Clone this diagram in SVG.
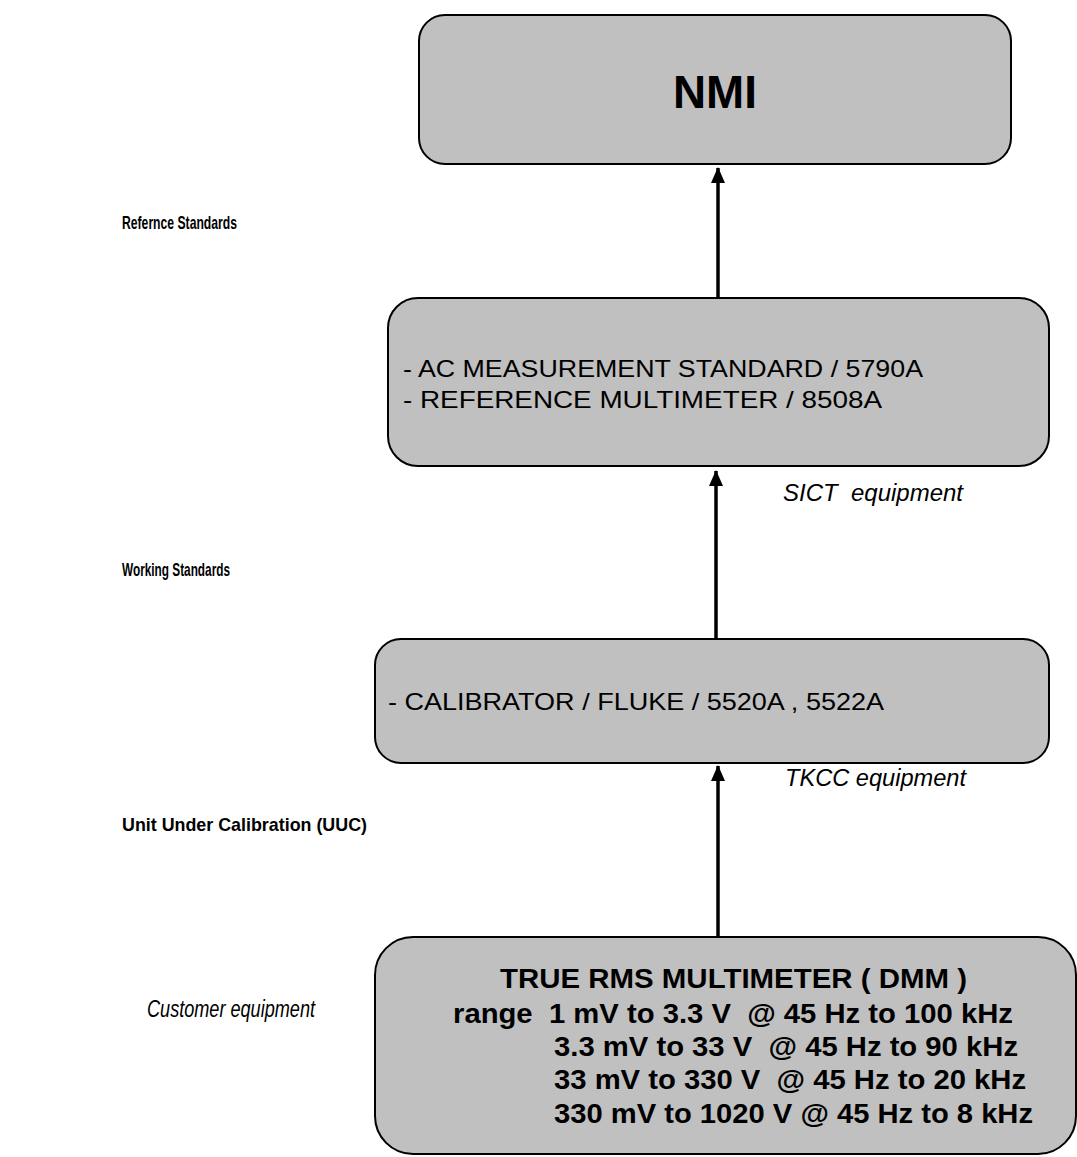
<svg xmlns="http://www.w3.org/2000/svg" width="1077" height="1157" viewBox="0 0 1077 1157">
<style>
.box{fill:#c0c0c0;stroke:#000;stroke-width:2}
.lbl{font-family:"Liberation Sans",Arial,sans-serif;font-weight:bold;font-size:19px;fill:#000}
.it{font-family:"Liberation Sans",Arial,sans-serif;font-style:italic;font-size:24px;fill:#000}
.reg{font-family:"Liberation Sans",Arial,sans-serif;font-size:24px;fill:#000}
.bb{font-family:"Liberation Sans",Arial,sans-serif;font-weight:bold;font-size:27px;fill:#000}
.con{stroke:#000;stroke-width:3.5;fill:none}
</style>
<defs>
<marker id="ah" markerUnits="userSpaceOnUse" markerWidth="16" markerHeight="16" viewBox="0 0 16 16" refX="15" refY="8" orient="auto">
<path d="M0,1 L16,8 L0,15 Z" fill="#000"/>
</marker>
</defs>
<g id="connectors">
<line class="con" x1="718" y1="297" x2="718" y2="168" marker-end="url(#ah)"/>
<line class="con" x1="716" y1="639" x2="716" y2="471" marker-end="url(#ah)"/>
<line class="con" x1="718" y1="937" x2="718" y2="766" marker-end="url(#ah)"/>
</g>
<g id="nmi">
<rect class="box" x="419" y="15" width="592" height="149" rx="26"/>
<text x="673" y="108" font-family="Liberation Sans,Arial,sans-serif" font-weight="bold" font-size="47" textLength="84" lengthAdjust="spacingAndGlyphs">NMI</text>
</g>
<g id="reference-standards">
<rect class="box" x="388" y="298" width="661" height="168" rx="30"/>
<text class="reg" x="403" y="377" textLength="520" lengthAdjust="spacingAndGlyphs">- AC MEASUREMENT STANDARD / 5790A</text>
<text class="reg" x="403" y="408" textLength="479" lengthAdjust="spacingAndGlyphs">- REFERENCE MULTIMETER / 8508A</text>
</g>
<g id="working-standards">
<rect class="box" x="375" y="639" width="674" height="124" rx="26"/>
<text class="reg" x="388" y="710" textLength="496" lengthAdjust="spacingAndGlyphs">- CALIBRATOR / FLUKE / 5520A , 5522A</text>
</g>
<g id="uuc">
<rect class="box" x="375" y="937" width="701" height="217" rx="38"/>
<text class="bb" x="500" y="988" textLength="467" lengthAdjust="spacingAndGlyphs">TRUE RMS MULTIMETER ( DMM )</text>
<text class="bb" x="453" y="1023" textLength="560" lengthAdjust="spacingAndGlyphs" xml:space="preserve">range  1 mV to 3.3 V  @ 45 Hz to 100 kHz</text>
<text class="bb" x="554" y="1056" textLength="464" lengthAdjust="spacingAndGlyphs" xml:space="preserve">3.3 mV to 33 V  @ 45 Hz to 90 kHz</text>
<text class="bb" x="554" y="1089" textLength="472" lengthAdjust="spacingAndGlyphs" xml:space="preserve">33 mV to 330 V  @ 45 Hz to 20 kHz</text>
<text class="bb" x="554" y="1123" textLength="479" lengthAdjust="spacingAndGlyphs">330 mV to 1020 V @ 45 Hz to 8 kHz</text>
</g>
<g id="labels">
<text class="lbl" x="122" y="229" textLength="115" lengthAdjust="spacingAndGlyphs">Refernce Standards</text>
<text class="lbl" x="122" y="576" textLength="108" lengthAdjust="spacingAndGlyphs">Working Standards</text>
<text class="lbl" x="122" y="831" textLength="245" lengthAdjust="spacingAndGlyphs">Unit Under Calibration (UUC)</text>
<text class="it" x="147" y="1017" textLength="168" lengthAdjust="spacingAndGlyphs">Customer equipment</text>
<text class="it" x="783" y="501" textLength="180" lengthAdjust="spacingAndGlyphs" xml:space="preserve">SICT  equipment</text>
<text class="it" x="785" y="786" textLength="181" lengthAdjust="spacingAndGlyphs">TKCC equipment</text>
</g>
</svg>
